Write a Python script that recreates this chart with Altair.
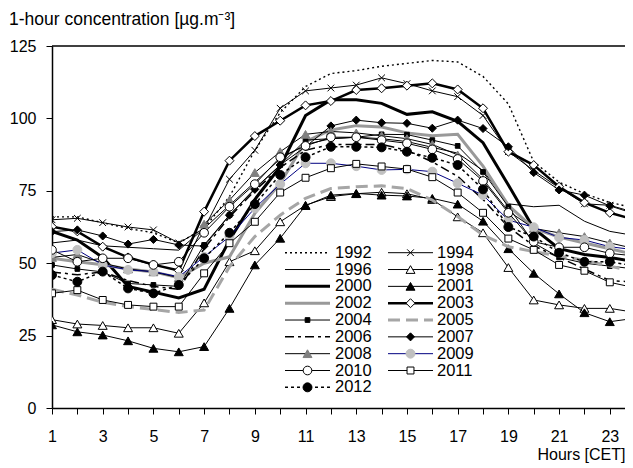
import altair as alt
import pandas as pd

hours = list(range(1, 25))

c1992 = [66, 66, 64, 62, 60.5, 57, 62, 73, 89, 102, 111, 115.5, 116.5, 118, 119, 120, 119.5, 114.5, 105, 85, 78, 74, 71, 69]
c1994 = [65, 65.5, 64, 62.5, 61.5, 57, 62, 79, 89, 103.5, 109.5, 110.5, 111.5, 114, 112, 109.5, 107.5, 101, 88.5, 82, 76, 70.5, 70, 67.5]
c1996 = [57, 58, 56, 55.5, 55, 54.5, 62, 70, 78, 86, 91, 93, 93.5, 93, 92, 90, 88, 82, 70.5, 69.5, 70, 64.5, 61, 59.5]
c1998 = [30.5, 29, 28.5, 27.7, 27.7, 25.8, 36.3, 50.5, 54.3, 64.3, 70, 73, 74, 74.5, 74, 72, 66, 60.5, 48.5, 37.3, 35.6, 34.4, 34.4, 33]
c2000 = [61, 58, 52, 42, 40, 38, 41, 58, 72, 83.3, 101, 106.4, 106.4, 105.2, 101.4, 102.3, 99, 91.6, 77, 62, 55, 53, 52, 50.5]
c2001 = [28.7, 26.3, 25.2, 23.2, 20.6, 19.4, 21.2, 34.4, 49.4, 58.6, 69.9, 73.5, 74.1, 73.5, 73.2, 72.4, 70.4, 64.5, 55, 46.5, 39.4, 32.9, 29.8, 31]
c2002 = [51.7, 50.5, 49.5, 48, 47, 45, 50, 52.2, 67.2, 77.6, 92, 96, 97.5, 97, 95, 94, 94.5, 83.5, 70, 62, 59, 57, 55, 53]
c2003 = [62.6, 61, 55.7, 52, 49.5, 47.5, 67.8, 85.4, 93.9, 99.2, 104.5, 106, 109.8, 110.4, 111.3, 112.1, 110, 103.5, 88.5, 83.9, 76.4, 70.9, 67.4, 65]
c2004 = [49.4, 48, 47, 43, 42.5, 42, 56.3, 66.6, 75.8, 83.9, 92.5, 93, 93.5, 94.5, 94.4, 92.5, 90.5, 81.5, 69.5, 57, 52, 50, 49, 48]
c2005 = [41, 39, 36.5, 35, 34, 33, 33.8, 48.8, 59.2, 66.6, 72.4, 75.8, 76.4, 76.7, 75.8, 71.8, 66.1, 59.7, 55.7, 54, 52.5, 51, 49, 47]
c2006 = [47, 46, 47, 44, 42, 41, 55, 66, 75, 83, 89, 91, 91, 91, 89, 85, 80, 72, 62.5, 56, 52, 48, 44, 43.5]
c2007 = [60.9, 61.5, 59.4, 56.6, 58.2, 56.3, 55.9, 66.6, 75.5, 83.9, 90.2, 97.4, 99.4, 98.5, 98.3, 96.6, 99.4, 96.5, 90.2, 81.3, 75.3, 73.5, 69.8, 67]
c2008 = [52, 53, 50, 48, 47, 45, 63.5, 71.8, 81.3, 88.5, 94.5, 95.5, 95, 94, 93, 91, 87.4, 79, 68, 62, 60.5, 59.2, 57, 55]
c2009 = [53.5, 54.6, 49.4, 47.7, 47.1, 45.3, 52.2, 59.2, 69, 77.3, 84.5, 84.5, 83.5, 82.2, 82.4, 81.6, 77.6, 73.5, 64.9, 62.4, 58.9, 58, 55.7, 54.6]
c2010 = [54.6, 50.5, 51.7, 51.7, 49.4, 50.5, 60.5, 69.5, 77.3, 86.6, 90.5, 93.5, 93.5, 92.5, 91.4, 89.3, 86, 78.4, 67.4, 57.4, 55.5, 55.5, 53.4, 52.5]
c2011 = [39.6, 40.7, 37.3, 35.6, 35, 35, 46.5, 56.9, 64.3, 74.4, 79.5, 82.8, 84.3, 83.4, 82.5, 79.7, 74.4, 67.4, 58.5, 54.6, 49.4, 47.4, 43.4, 41.5]
c2012 = [45.9, 43.6, 47.1, 41.3, 39.6, 42.5, 51.7, 60.5, 70.4, 80.5, 86.6, 90.2, 90.2, 90, 88.5, 86.4, 83.9, 75.5, 62.5, 59.2, 53.6, 50.5, 50.5, 49]

years = ["1992", "1994", "1996", "1998", "2000", "2001", "2002", "2003", "2004",
         "2005", "2006", "2007", "2008", "2009", "2010", "2011", "2012"]
series = dict(zip(years, [c1992, c1994, c1996, c1998, c2000, c2001, c2002, c2003, c2004,
                          c2005, c2006, c2007, c2008, c2009, c2010, c2011, c2012]))

y_title = "1-hour concentration [µg.m⁻³]"

K = "#000000"
XSHAPE = "M-1,-1L1,1M-1,1L1,-1"
style = {
    "1992": dict(color=K, width=1.4, dash=[2, 3]),
    "1994": dict(color=K, width=1, marker=XSHAPE, mfill=None, mstroke=K, msize=45),
    "1996": dict(color=K, width=1),
    "1998": dict(color=K, width=1, marker="triangle-up", mfill="white", mstroke=K, msize=80),
    "2000": dict(color=K, width=3),
    "2001": dict(color=K, width=1, marker="triangle-up", mfill=K, mstroke=K, msize=80),
    "2002": dict(color="#999999", width=3),
    "2003": dict(color=K, width=2.5, marker="diamond", mfill="white", mstroke=K, msize=80),
    "2004": dict(color=K, width=1, marker="square", mfill=K, mstroke=K, msize=22),
    "2005": dict(color="#a6a6a6", width=3, dash=[12, 6]),
    "2006": dict(color=K, width=1.5, dash=[9, 4, 3, 4]),
    "2007": dict(color=K, width=1, marker="diamond", mfill=K, mstroke=K, msize=65),
    "2008": dict(color=K, width=1, marker="triangle-up", mfill="#808080", mstroke="#808080", msize=80),
    "2009": dict(color="#000080", width=1, marker="circle", mfill="#c0c0c0", mstroke="#c0c0c0", msize=80),
    "2010": dict(color=K, width=1, marker="circle", mfill="white", mstroke=K, msize=75),
    "2011": dict(color=K, width=1, marker="square", mfill="white", mstroke=K, msize=48),
    "2012": dict(color=K, width=1.5, dash=[3, 3], marker="circle", mfill=K, mstroke=K, msize=80),
}

FONT = "Liberation Sans"
W, H = 573, 362

xscale = alt.Scale(domain=[1, 23.6], nice=False, zero=False)
yscale = alt.Scale(domain=[0, 125], nice=False)

xenc = alt.X("hour:Q", scale=xscale,
             axis=alt.Axis(values=list(range(1, 24)),
                           labelExpr="datum.value % 2 == 1 ? datum.label : ''",
                           labelFlush=False, labelOverlap=False, tickSize=6, labelPadding=14,
                           grid=False, title="Hours [CET]", titleX=W, titleY=51,
                           titleAlign="right", titleBaseline="alphabetic", titleAnchor="end"))
yenc = alt.Y("v:Q", scale=yscale,
             axis=alt.Axis(values=[0, 25, 50, 75, 100, 125], tickSize=6, labelPadding=10,
                           grid=False, title=None))

layers = []
dummy = pd.DataFrame({"k": [0]})
layers.append(alt.Chart(dummy).mark_rule(color=K, strokeWidth=1.5).encode(y=alt.datum(125)))
layers.append(alt.Chart(dummy).mark_text(
    align="left", baseline="alphabetic", font=FONT, fontSize=17.5, color=K).encode(
    x=alt.value(-43), y=alt.value(-21), text=alt.value(y_title)))

for yr in years:
    df = pd.DataFrame({"hour": hours, "v": series[yr]})
    s = style[yr]
    lk = dict(color=s["color"], strokeWidth=s["width"], clip=True)
    if "dash" in s:
        lk["strokeDash"] = s["dash"]
    base = alt.Chart(df)
    layers.append(base.mark_line(**lk).encode(x=xenc, y=yenc))
    if "marker" in s:
        pk = dict(shape=s["marker"], size=s["msize"], stroke=s["mstroke"], strokeWidth=1,
                  opacity=1, clip=True)
        if s["mfill"] is None:
            pk["filled"] = False
        else:
            pk["filled"] = True
            pk["fill"] = s["mfill"]
        layers.append(base.mark_point(**pk).encode(x=xenc, y=yenc))

# legend (two columns, drawn inside the plot)
col_line = [(233, 278), (336, 381)]
col_text = [283, 385]
row0, rowstep = 206.7, 16.83
for i, yr in enumerate(years):
    c, r = i % 2, i // 2
    yy = row0 + r * rowstep
    x0, x1 = col_line[c]
    s = style[yr]
    rk = dict(color=s["color"], strokeWidth=s["width"])
    if "dash" in s:
        rk["strokeDash"] = s["dash"]
    layers.append(alt.Chart(dummy).mark_rule(**rk).encode(
        x=alt.value(x0), x2=alt.value(x1), y=alt.value(yy)))
    if "marker" in s:
        pk = dict(shape=s["marker"], size=s["msize"], stroke=s["mstroke"], strokeWidth=1, opacity=1)
        if s["mfill"] is None:
            pk["filled"] = False
        else:
            pk["filled"] = True
            pk["fill"] = s["mfill"]
        layers.append(alt.Chart(dummy).mark_point(**pk).encode(
            x=alt.value((x0 + x1) / 2), y=alt.value(yy)))
    layers.append(alt.Chart(dummy).mark_text(
        align="left", baseline="middle", font=FONT, fontSize=16.5, color=K).encode(
        x=alt.value(col_text[c]), y=alt.value(yy), text=alt.value(yr)))

chart = alt.layer(*layers).properties(
    width=W, height=H,
    autosize=alt.AutoSizeParams(type="none"),
    padding={"left": 44, "top": 38, "right": 0, "bottom": 56},
).configure_view(stroke=None).configure_axis(
    domainColor=K, domainWidth=1.5, tickColor=K, tickWidth=1,
    labelColor=K, labelFont=FONT, labelFontSize=16,
    titleColor=K, titleFont=FONT, titleFontSize=16, titleFontWeight="normal",
)

chart.save("out.html", embed_options={"renderer": "svg", "actions": False})
